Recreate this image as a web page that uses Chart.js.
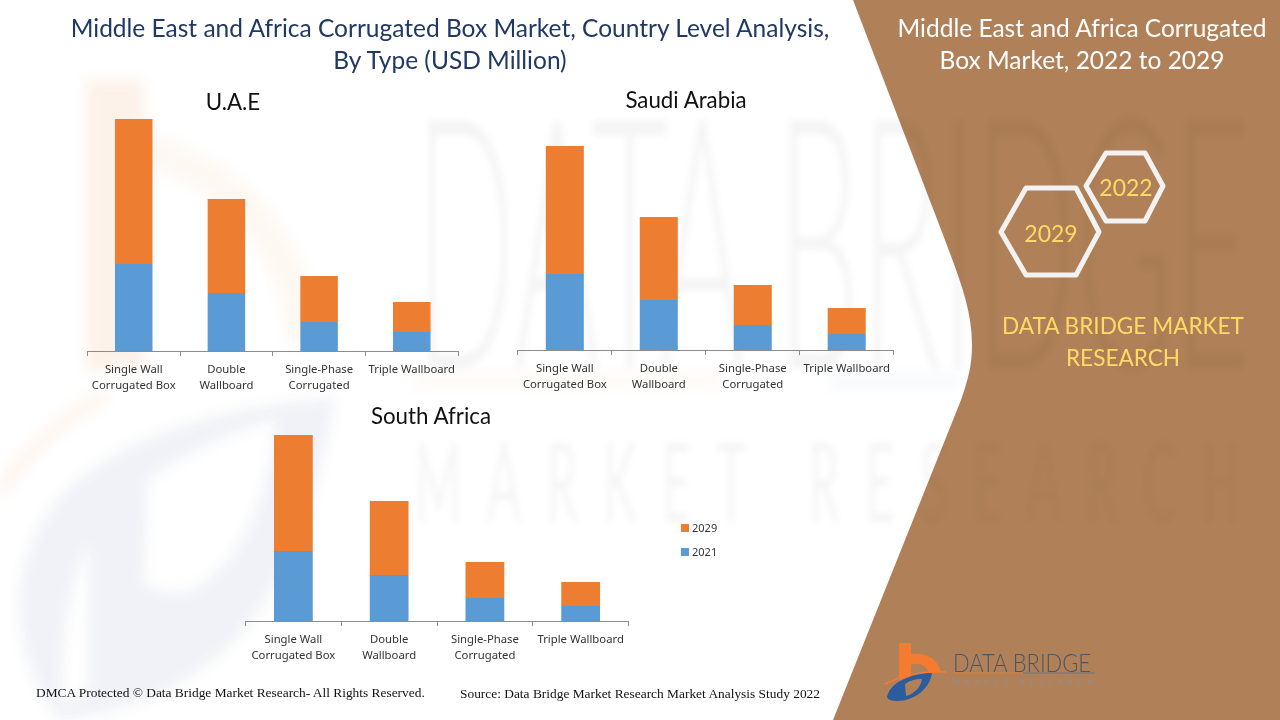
<!DOCTYPE html>
<html>
<head>
<meta charset="utf-8">
<title>Middle East and Africa Corrugated Box Market</title>
<script src="https://cdn.jsdelivr.net/npm/chart.js@4"></script>
<style>
  html, body { margin: 0; padding: 0; background: #fff; }
  #pagina { position: relative; width: 1280px; height: 720px; overflow: hidden; background: #fff; font-family: Lato, sans-serif; }
  #fundo, #painel { position: absolute; left: 0; top: 0; }
  canvas { position: absolute; }
  .txt { position: absolute; white-space: nowrap; text-align: center; transform: translateX(-50%); }
  .titulo { color: #1f3864; font-size: 24.5px; line-height: 32px; }
  .pais { color: #111; font-size: 22.3px; line-height: 28px; }
  .branco { color: #fff; font-size: 24.5px; line-height: 32px; }
  .amarelo { color: #ffd966; font-size: 22.6px; line-height: 32px; }
  .ano { color: #ffd966; font-size: 23px; line-height: 32px; }
  .rodape { position: absolute; white-space: nowrap; font-family: "Liberation Serif", serif; font-size: 13.4px; color: #111; }
  #legenda { position: absolute; left: 681px; top: 516px; font-family: "Noto Sans", sans-serif; font-size: 11px; color: #333; }
  #legenda div { height: 24px; line-height: 24px; white-space: nowrap; }
  #legenda i { display: inline-block; width: 8px; height: 8px; margin-right: 3px; }
</style>
</head>
<body>
<div id="pagina">
  <!-- marca de água e painel castanho -->
  <svg id="fundo" width="1280" height="720">
    <defs>
      <filter id="blur6"><feGaussianBlur stdDeviation="6"/></filter>
      <filter id="blur3"><feGaussianBlur stdDeviation="3"/></filter>
    </defs>
    <g filter="url(#blur6)" fill="none">
      <path d="M115 80 V370" stroke="#f4a46a" stroke-opacity=".14" stroke-width="58"/>
      <path d="M140 150 C240 170 300 260 305 345" stroke="#f4a46a" stroke-opacity=".08" stroke-width="34"/>
      <path d="M0 490 C30 450 60 420 105 395" stroke="#f4a46a" stroke-opacity=".12" stroke-width="14"/>
      <path d="M415 381 H720" stroke="#f4a46a" stroke-opacity=".07" stroke-width="12"/>
      <path d="M830 381 H960" stroke="#7f9fc4" stroke-opacity=".07" stroke-width="12"/>
      <path fill="#5f7fa8" fill-opacity=".09" fill-rule="evenodd"
        d="M60 720 C10 660 5 570 50 510 C100 440 220 405 335 398 C320 500 280 600 225 650 C170 700 110 715 60 720 Z
           M148 480 C190 450 240 430 275 420 C270 480 250 560 190 590 C175 595 160 590 145 585 Z
           M88 545 C70 580 60 650 62 705 L88 690 Z"/>
    </g>
    <g filter="url(#blur3)" fill="#000" font-family="Lato, sans-serif">
      <text x="415" y="368" font-size="350" font-weight="300" textLength="835" lengthAdjust="spacingAndGlyphs" fill-opacity=".04">DATA BRIDGE</text>
      <text transform="translate(415 522) scale(.45 1)" font-size="111" textLength="1833" fill-opacity=".04">MARKET RESEARCH</text>
    </g>
    <path d="M853 0 L945 240 C960 280 972 310 972 345 C972 365 968 380 961 400 L833 720 L1280 720 L1280 0 Z" fill="#b08158"/>
    <clipPath id="corte"><path d="M853 0 L945 240 C960 280 972 310 972 345 C972 365 968 380 961 400 L833 720 L1280 720 L1280 0 Z"/></clipPath>
    <g clip-path="url(#corte)">
      <g filter="url(#blur3)" fill="#000" font-family="Lato, sans-serif">
        <text x="415" y="368" font-size="350" font-weight="300" textLength="835" lengthAdjust="spacingAndGlyphs" fill-opacity=".035">DATA BRIDGE</text>
        <text transform="translate(415 522) scale(.45 1)" font-size="111" textLength="1833" fill-opacity=".025">MARKET RESEARCH</text>
      </g>
    </g>
  </svg>

  <svg id="painel" width="1280" height="720">
    <g fill="none" stroke="#f2f2f2" stroke-width="5" stroke-linejoin="round">
      <polygon points="1001,232 1026,188 1076,188 1099,232 1076,275 1026,275"/>
      <polygon points="1086,186 1106,153 1145,153 1163,186 1145,221 1106,221"/>
    </g>
    <!-- logótipo -->
    <path d="M899 643 H911 V654 C928 652 938 660 941 672 L929 673 C926 664 918 662 911 665 V677 L899 680 Z" fill="#f47b30"/>
    <path d="M885 684 C905 674 928 671 946 672" fill="none" stroke="#f47b30" stroke-width="1.5"/>
    <path fill-rule="evenodd" fill="#2b5c9e" d="M887 697 C890 682 912 673 932 673 C930 688 915 701 897 701 C892 701 888 700 887 697 Z
      M906 696 C915 694 921 686 922 679 C915 679 909 681 905 684 Z"/>
    <text x="953" y="672" font-family="Lato, sans-serif" font-weight="300" font-size="26" textLength="138" lengthAdjust="spacingAndGlyphs" fill="#4f5560">DATA BRIDGE</text>
    <path d="M953 673 H1023" stroke="#d9813f" stroke-width="1.2"/>
    <path d="M1023 673 H1095" stroke="#6d7280" stroke-width="1.2"/>
    <text x="953" y="685" font-family="Lato, sans-serif" font-size="7" textLength="140" fill="#8c8f96">MARKET RESEARCH</text>
  </svg>

  <div class="txt titulo" style="left:450px;top:12px">Middle East and Africa Corrugated Box Market, Country Level Analysis,<br>By Type (USD Million)</div>
  <div class="txt branco" style="left:1082px;top:12px">Middle East and Africa Corrugated<br>Box Market, 2022 to 2029</div>
  <div class="txt ano" style="left:1126px;top:171px">2022</div>
  <div class="txt ano" style="left:1051px;top:217px">2029</div>
  <div class="txt amarelo" style="left:1123px;top:310px">DATA BRIDGE MARKET<br>RESEARCH</div>

  <div class="txt pais" style="left:233px;top:88px">U.A.E</div>
  <div class="txt pais" style="left:686px;top:86px">Saudi Arabia</div>
  <div class="txt pais" style="left:431px;top:402px">South Africa</div>

  <canvas id="uae"></canvas>
  <canvas id="saudi"></canvas>
  <canvas id="africa"></canvas>

  <div id="legenda"></div>

  <div class="rodape" style="left:36px;top:685px">DMCA Protected © Data Bridge Market Research- All Rights Reserved.</div>
  <div class="rodape" style="left:460px;top:686px">Source: Data Bridge Market Research Market Analysis Study 2022</div>
</div>

<script>
// Valores (o eixo não tem escala, por isso são estimativas relativas).
const categorias = [
  ['Single Wall', 'Corrugated Box'],
  ['Double', 'Wallboard'],
  ['Single-Phase', 'Corrugated'],
  'Triple Wallboard',
];
const nomeSerieA = '2021';
const nomeSerieB = '2029';

const uae2021 = [87, 58, 29, 19];
const uae2029 = [145, 94, 46, 30];
const saudi2021 = [76, 50, 25, 16];
const saudi2029 = [128, 83, 40, 26];
const africa2021 = [70, 46, 23, 15];
const africa2029 = [116, 74, 36, 24];

const COR_A = '#5b9bd5';
const COR_B = '#ed7d31';
const ALTURA_EIXO = 44;

Chart.defaults.animation = false;
Chart.defaults.responsive = false;

// Cria um gráfico de barras empilhadas; a base da barra fica em baseY e o eixo vai de esq a dir.
function criarGrafico(id, serieA, serieB, maxY, esq, dir, baseY) {
  const canvas = document.getElementById(id);
  canvas.width = dir - esq + 2;
  canvas.height = maxY + ALTURA_EIXO;
  canvas.style.left = (esq - 1) + 'px';
  canvas.style.top = (baseY - maxY) + 'px';

  return new Chart(canvas, {
    type: 'bar',
    data: {
      labels: categorias,
      datasets: [
        { label: nomeSerieA, data: serieA, backgroundColor: COR_A },
        { label: nomeSerieB, data: serieB, backgroundColor: COR_B },
      ],
    },
    options: {
      maintainAspectRatio: false,
      devicePixelRatio: 1,
      layout: { padding: { left: 0.5, right: 1, top: 0, bottom: 0 } },
      datasets: { bar: { categoryPercentage: 1, barPercentage: 0.405 } },
      plugins: { legend: { display: false }, tooltip: { enabled: false } },
      scales: {
        y: { stacked: true, display: false, min: 0, max: maxY },
        x: {
          stacked: true,
          border: { color: '#8c8c8c' },
          grid: { drawOnChartArea: false, color: '#8c8c8c', tickLength: 5 },
          ticks: {
            color: '#333',
            autoSkip: false,
            maxRotation: 0,
            padding: 6,
            font: { family: 'Noto Sans', size: 11.3, lineHeight: 1.42 },
          },
          afterFit(escala) { escala.height = ALTURA_EIXO; },
        },
      },
    },
  });
}

criarGrafico('uae', uae2021, uae2029, 240, 87, 460, 351);
criarGrafico('saudi', saudi2021, saudi2029, 220, 518, 895, 350);
criarGrafico('africa', africa2021, africa2029, 200, 246, 629, 621);

// Legenda em HTML, fora da área do gráfico, com a última série primeiro.
document.getElementById('legenda').innerHTML = [[nomeSerieB, COR_B], [nomeSerieA, COR_A]]
  .map(([nome, cor]) => `<div><i style="background:${cor}"></i>${nome}</div>`)
  .join('');
</script>
</body>
</html>
